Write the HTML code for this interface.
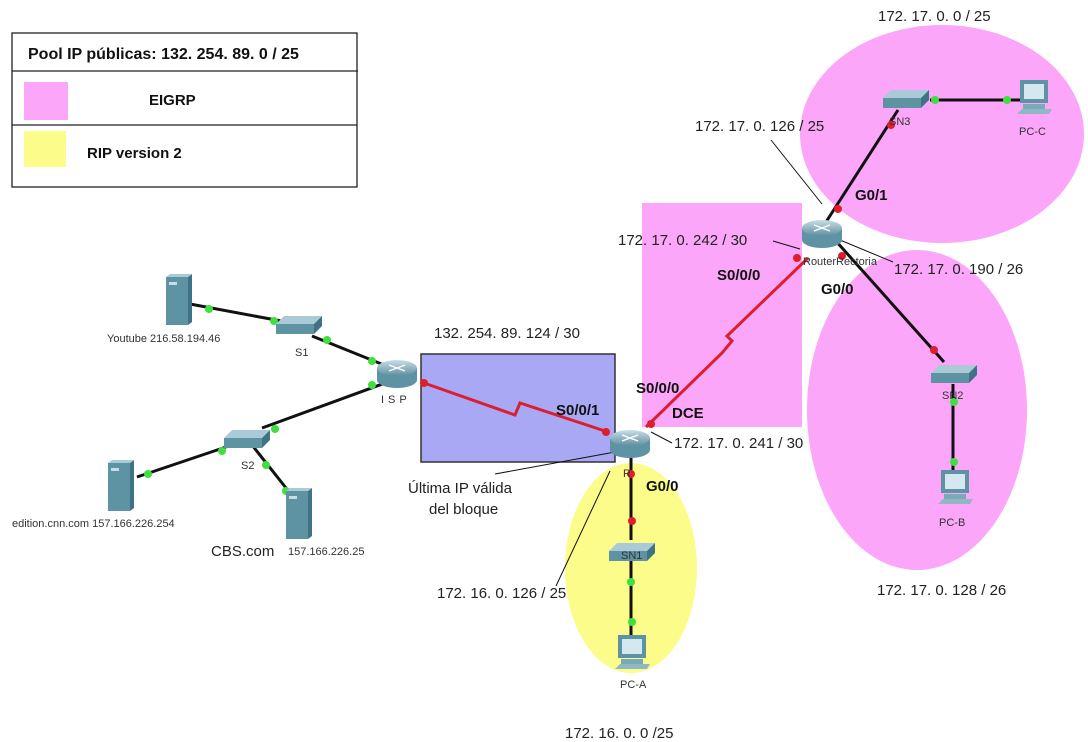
<!DOCTYPE html>
<html><head><meta charset="utf-8"><style>
html,body{margin:0;padding:0;background:#fff;}
svg{display:block;}
text{font-family:"Liberation Sans",sans-serif;}
.ip{font-size:15px;fill:#222;}
.b{font-size:15px;font-weight:bold;fill:#111;}
.sm{font-size:11px;fill:#333;}
</style></head><body>
<svg width="1088" height="742" viewBox="0 0 1088 742" xmlns="http://www.w3.org/2000/svg">
<defs>
<linearGradient id="rg" x1="0" y1="0" x2="0" y2="1"><stop offset="0" stop-color="#c9dfe6"/><stop offset="1" stop-color="#5f8fa0"/></linearGradient>
<g id="router">
<path d="M-20,-5 L-20,7 A20,8 0 0 0 20,7 L20,-5 Z" fill="#5e93a4"/>
<ellipse cx="0" cy="-5" rx="20" ry="8" fill="url(#rg)"/>
<path d="M-8,-8 L8,-2 M8,-8 L-8,-2" stroke="#fff" stroke-width="1.3"/>
</g>
<g id="switch">
<path d="M-22,-2 L-14,-10 L24,-10 L16,-2 Z" fill="#a9cad6"/>
<path d="M-22,-2 L16,-2 L16,8 L-22,8 Z" fill="#5e93a4"/>
<path d="M16,-2 L24,-10 L24,0 L16,8 Z" fill="#3f7284"/>
</g>
<g id="server">
<rect x="-12" y="-24" width="22" height="48" fill="#5e93a4"/>
<path d="M10,-24 L14,-27 L14,21 L10,24 Z" fill="#3f7284"/>
<path d="M-12,-24 L-8,-27 L14,-27 L10,-24 Z" fill="#a9cad6"/>
<rect x="-9" y="-19" width="8" height="3" fill="#c5dde5"/>
</g>
<g id="pc">
<rect x="-14" y="-20" width="28" height="23" fill="#5e93a4"/>
<rect x="-10" y="-16" width="20" height="15" fill="#d5e8ef"/>
<rect x="-11" y="4" width="22" height="5" fill="#7aa9b8"/>
<path d="M-17,14 L-12,9 L18,9 L15,14 Z" fill="#8fb7c4"/>
</g>
</defs>

<ellipse cx="942" cy="134" rx="142" ry="109" fill="#fca6fa"/>
<ellipse cx="917" cy="410" rx="110" ry="160" fill="#fca6fa"/>
<rect x="642" y="203" width="160" height="224" fill="#fca6fa"/>
<ellipse cx="631" cy="568" rx="66" ry="105" fill="#fcfc8a"/>
<rect x="421" y="354" width="194" height="108" fill="#a8a8f4" stroke="#333" stroke-width="1.5"/>

<rect x="12" y="33" width="345" height="154" fill="#fff" stroke="#222" stroke-width="1.3"/>
<line x1="12" y1="71" x2="358" y2="71" stroke="#222" stroke-width="1.3"/>
<line x1="12" y1="125" x2="357" y2="125" stroke="#222" stroke-width="1.3"/>
<rect x="24" y="82" width="44" height="38" fill="#fca6fa"/>
<rect x="24" y="131" width="42" height="36" fill="#fcfc8a"/>
<text x="28" y="59" class="b" style="font-size:16px">Pool IP públicas:  132. 254. 89. 0 / 25</text>
<text x="149" y="105" class="b">EIGRP</text>
<text x="87" y="158" class="b">RIP version 2</text>

<g stroke="#111" stroke-width="3" fill="none">
<line x1="190" y1="304" x2="292" y2="323"/>
<line x1="312" y1="336" x2="384" y2="365"/>
<line x1="385" y1="383" x2="262" y2="428"/>
<line x1="226" y1="447" x2="137" y2="477"/>
<line x1="252" y1="445" x2="290" y2="493"/>
<line x1="631" y1="455" x2="631" y2="540"/>
<line x1="631" y1="560" x2="631" y2="635"/>
<line x1="826" y1="222" x2="898" y2="110"/>
<line x1="930" y1="100" x2="1020" y2="100"/>
<line x1="835" y1="240" x2="944" y2="362"/>
<line x1="953" y1="384" x2="953" y2="470"/>
</g>
<g stroke="#d82030" stroke-width="3" fill="none">
<polyline points="424,383 515,415 520,403 608,432"/>
<polyline points="646,427 722,353 732,341 727,336 808,258"/>
</g>
<g stroke="#111" stroke-width="1" fill="none">
<line x1="615" y1="452" x2="495" y2="474"/>
<line x1="610" y1="471" x2="556" y2="586"/>
<line x1="771" y1="140" x2="822" y2="204"/>
<line x1="773" y1="241" x2="800" y2="249"/>
<line x1="840" y1="240" x2="893" y2="262"/>
<line x1="651" y1="432" x2="672" y2="443"/>
</g>

<g fill="#3ee03e">
<circle cx="209" cy="309" r="4"/><circle cx="274" cy="321" r="4"/><circle cx="327" cy="340" r="4"/>
<circle cx="372" cy="361" r="4"/><circle cx="372" cy="385" r="4"/><circle cx="275" cy="429" r="4"/>
<circle cx="222" cy="451" r="4"/><circle cx="148" cy="474" r="4"/><circle cx="266" cy="465" r="4"/>
<circle cx="286" cy="491" r="4"/><circle cx="631" cy="582" r="4"/><circle cx="632" cy="622" r="4"/>
<circle cx="935" cy="100" r="4"/><circle cx="1007" cy="100" r="4"/><circle cx="954" cy="402" r="4"/><circle cx="954" cy="462" r="4"/>
</g>
<g fill="#e01e2a">
<circle cx="424" cy="383" r="4"/><circle cx="606" cy="432" r="4"/><circle cx="651" cy="424" r="4"/>
<circle cx="631" cy="474" r="4"/><circle cx="632" cy="521" r="4"/><circle cx="797" cy="258" r="4"/>
<circle cx="838" cy="209" r="4"/><circle cx="891" cy="125" r="4"/><circle cx="842" cy="256" r="4"/><circle cx="934" cy="350" r="4"/>
</g>

<use href="#server" x="178" y="301"/>
<use href="#server" x="120" y="487"/>
<use href="#server" x="298" y="515"/>
<use href="#switch" x="298" y="326"/>
<use href="#switch" x="246" y="440"/>
<use href="#router" x="397" y="373"/>
<use href="#router" x="630" y="443"/>
<use href="#router" x="822" y="233"/>
<use href="#switch" x="905" y="100"/>
<use href="#switch" x="953" y="375"/>
<use href="#switch" x="631" y="553"/>
<use href="#pc" x="1034" y="100"/>
<use href="#pc" x="955" y="490"/>
<use href="#pc" x="632" y="655"/>

<text x="107" y="342" class="sm">Youtube 216.58.194.46</text>
<text x="295" y="356" class="sm">S1</text>
<text x="381" y="403" class="sm" letter-spacing="4">ISP</text>
<text x="241" y="469" class="sm">S2</text>
<text x="12" y="527" class="sm">edition.cnn.com  157.166.226.254</text>
<text x="211" y="556" style="font-size:15px;fill:#222">CBS.com</text>
<text x="288" y="555" class="sm">157.166.226.25</text>
<text x="623" y="477" class="sm">R</text>
<text x="621" y="559" class="sm">SN1</text>
<text x="620" y="688" class="sm">PC-A</text>
<text x="889" y="125" class="sm">SN3</text>
<text x="1019" y="135" class="sm">PC-C</text>
<text x="803" y="265" class="sm">RouterRectoria</text>
<text x="942" y="399" class="sm">SN2</text>
<text x="939" y="526" class="sm">PC-B</text>

<text x="878" y="21" class="ip">172. 17. 0. 0 / 25</text>
<text x="695" y="131" class="ip">172. 17. 0. 126 / 25</text>
<text x="618" y="245" class="ip">172. 17. 0. 242 / 30</text>
<text x="894" y="274" class="ip">172. 17. 0. 190 / 26</text>
<text x="434" y="338" class="ip">132. 254. 89. 124 / 30</text>
<text x="674" y="448" class="ip">172. 17. 0. 241 / 30</text>
<text x="408" y="493" class="ip">Última IP válida</text>
<text x="429" y="514" class="ip">del bloque</text>
<text x="437" y="598" class="ip">172. 16. 0. 126 / 25</text>
<text x="565" y="738" class="ip">172. 16. 0. 0 /25</text>
<text x="877" y="595" class="ip">172. 17. 0. 128 / 26</text>

<text x="855" y="200" class="b">G0/1</text>
<text x="717" y="280" class="b">S0/0/0</text>
<text x="821" y="294" class="b">G0/0</text>
<text x="636" y="393" class="b">S0/0/0</text>
<text x="672" y="418" class="b">DCE</text>
<text x="556" y="415" class="b">S0/0/1</text>
<text x="646" y="491" class="b">G0/0</text>
</svg>
</body></html>
